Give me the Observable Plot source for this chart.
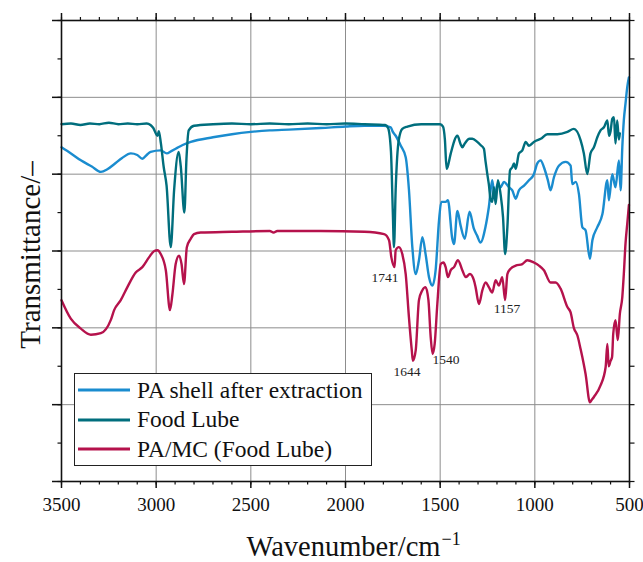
<!DOCTYPE html>
<html>
<head>
<meta charset="utf-8">
<script src="https://cdn.jsdelivr.net/npm/d3@7"></script>
<script src="https://cdn.jsdelivr.net/npm/@observablehq/plot@0.6"></script>
<style>
  html, body { margin: 0; padding: 0; background: #fff; }
  #wrap { position: relative; width: 643px; height: 562px; }
  #legend {
    position: absolute; left: 74px; top: 373px; width: 296px; height: 89px;
    border: 1px solid #222; background: #fff; box-sizing: content-box;
    padding-top: 1.5px;
    font-family: "Liberation Serif", Tinos, "Times New Roman", Times, "Nimbus Roman", "DejaVu Serif", serif;
    font-size: 23.5px; color: #111;
  }
  .row { display: flex; align-items: center; height: 29.5px; }
  .row svg { flex: none; margin-left: 2px; }
  .row span { margin-left: 6px; white-space: nowrap; line-height: 1; }
</style>
</head>
<body>
<div id="wrap">
  <div id="chart"></div>
  <div id="legend"></div>
</div>
<script>
// FTIR spectra: [wavenumber (cm^-1), transmittance (offset, arbitrary units)]
const seriesNames = ["PA shell after extraction", "Food Lube", "PA/MC (Food Lube)"];
const seriesColors = ["#1a8ccf", "#006e7d", "#b5124c"];

const shellAfterExtraction = [
  [3500,4.35],[3450,4.27],[3398,4.18],[3340,4.10],[3292,4.03],[3260,4.06],[3222,4.13],[3180,4.21],
  [3134,4.27],[3100,4.25],[3073,4.20],[3050,4.25],[3029,4.29],[2976,4.31],[2944,4.27],[2920,4.30],
  [2897,4.33],[2860,4.38],[2817,4.42],[2700,4.48],[2600,4.52],[2500,4.55],[2400,4.57],[2300,4.58],
  [2131,4.60],[2000,4.62],[1900,4.63],[1800,4.63],[1761,4.61],[1752,4.56],[1735,4.50],[1708,4.37],
  [1682,4.22],[1665,3.80],[1647,3.05],[1629,2.70],[1612,2.88],[1594,3.18],[1577,2.96],[1559,2.66],
  [1541,2.55],[1524,2.75],[1506,3.40],[1494,3.64],[1471,3.64],[1459,3.66],[1436,3.16],[1427,3.09],
  [1409,3.52],[1392,3.33],[1370,3.16],[1345,3.51],[1322,3.29],[1305,3.20],[1287,3.11],[1261,3.31],
  [1243,3.57],[1225,3.92],[1212,3.70],[1198,3.87],[1181,3.83],[1163,3.90],[1137,3.83],[1119,3.79],
  [1101,3.68],[1084,3.79],[1057,3.85],[1031,3.92],[1005,4.00],[987,4.14],[969,4.18],[952,4.09],
  [931,3.92],[917,3.79],[899,3.96],[873,4.11],[837,4.16],[811,4.11],[802,3.87],[784,3.90],
  [767,3.74],[749,3.31],[732,3.27],[709,2.90],[696,3.14],[670,3.31],[643,3.48],[617,3.92],
  [609,3.66],[591,4.00],[574,3.83],[556,4.18],[547,3.79],[538,4.35],[530,4.70],[521,4.92],
  [512,5.13],[503,5.26]
];

const foodLube = [
  [3500,4.65],[3450,4.66],[3400,4.64],[3350,4.66],[3300,4.65],[3250,4.67],[3200,4.65],[3150,4.66],
  [3100,4.65],[3050,4.66],[3030,4.64],[3015,4.60],[2993,4.50],[2986,4.56],[2975,4.40],[2960,4.09],
  [2945,3.85],[2923,3.05],[2905,3.80],[2881,4.29],[2870,4.10],[2851,3.50],[2840,4.20],[2828,4.57],
  [2800,4.63],[2700,4.65],[2600,4.66],[2500,4.65],[2400,4.66],[2300,4.65],[2200,4.66],[2100,4.65],
  [2000,4.66],[1900,4.65],[1790,4.64],[1775,4.60],[1760,4.30],[1750,3.50],[1744,3.05],[1735,3.80],
  [1719,4.44],[1700,4.59],[1673,4.62],[1600,4.65],[1500,4.65],[1485,4.62],[1475,4.45],[1466,4.07],
  [1460,4.10],[1444,4.27],[1409,4.50],[1392,4.39],[1383,4.35],[1370,4.40],[1345,4.46],[1330,4.46],
  [1304,4.42],[1287,4.38],[1269,4.33],[1261,4.18],[1251,4.00],[1243,3.87],[1233,3.66],[1225,3.64],
  [1216,3.83],[1207,3.61],[1195,3.92],[1181,3.74],[1168,3.44],[1157,2.96],[1145,3.31],[1131,4.05],
  [1119,4.09],[1110,4.14],[1101,4.07],[1084,4.27],[1066,4.31],[1048,4.42],[1031,4.37],[1005,4.42],
  [969,4.46],[934,4.52],[881,4.52],[828,4.55],[794,4.59],[758,4.44],[741,4.27],[723,4.00],
  [706,4.27],[688,4.35],[670,4.48],[653,4.57],[635,4.61],[617,4.70],[608,4.50],[600,4.56],
  [591,4.72],[582,4.74],[574,4.40],[565,4.70],[556,4.45],[551,4.53]
];

const paMcFoodLube = [
  [3500,2.36],[3451,2.12],[3398,1.99],[3345,1.91],[3292,1.93],[3240,2.10],[3222,2.23],[3187,2.36],
  [3152,2.53],[3108,2.72],[3073,2.79],[3037,2.92],[3010,3.00],[2993,3.01],[2976,2.96],[2949,2.75],
  [2927,2.23],[2914,2.44],[2897,2.83],[2879,2.94],[2866,2.83],[2853,2.57],[2838,3.05],[2817,3.16],
  [2800,3.22],[2765,3.24],[2600,3.25],[2400,3.26],[2380,3.24],[2360,3.26],[2131,3.26],[1900,3.25],
  [1796,3.22],[1770,3.14],[1758,2.92],[1741,2.79],[1735,3.01],[1718,3.05],[1700,2.96],[1682,2.70],
  [1665,2.14],[1650,1.71],[1644,1.57],[1629,1.71],[1612,2.36],[1594,2.49],[1577,2.53],[1562,2.36],
  [1550,1.88],[1540,1.66],[1529,1.79],[1515,2.31],[1497,2.83],[1483,2.85],[1471,2.79],[1459,2.66],
  [1444,2.75],[1427,2.79],[1406,2.88],[1383,2.75],[1365,2.66],[1343,2.70],[1322,2.62],[1313,2.53],
  [1295,2.31],[1277,2.49],[1260,2.59],[1243,2.53],[1225,2.46],[1207,2.62],[1190,2.55],[1172,2.66],
  [1157,2.36],[1145,2.70],[1128,2.77],[1101,2.81],[1066,2.83],[1040,2.88],[1005,2.85],[978,2.81],
  [952,2.75],[917,2.59],[890,2.59],[864,2.51],[828,2.27],[811,2.20],[794,2.00],[775,1.90],
  [758,1.72],[741,1.52],[732,1.40],[709,1.03],[700,1.06],[688,1.10],[653,1.25],[626,1.49],
  [617,1.79],[610,1.50],[600,1.57],[592,1.62],[586,1.92],[574,2.10],[562,1.84],[551,2.18],
  [538,2.40],[530,2.70],[521,3.10],[512,3.35],[503,3.60]
];

// annotated absorption bands of the PA/MC spectrum
const peakLabels = [1741, 1644, 1540, 1157];

// axis ticks
const xMajor = [3500, 3000, 2500, 2000, 1500, 1000, 500];
const xMinor = d3.range(500, 3501, 100);
const xGrid = [3000, 2500, 2000, 1500, 1000];
const yMajor = [0, 1, 2, 3, 4, 5, 6];
const yMinor = d3.range(0, 6.01, 0.5);
const yGrid = [1, 2, 3, 4, 5];

const spectra = [shellAfterExtraction, foodLube, paMcFoodLube];
const rows = spectra.flatMap((pts, i) =>
  pts.map(([wn, t]) => ({series: seriesNames[i], wn, t})));

const peakAt = (wn) => {
  const p = paMcFoodLube.find(d => d[0] === wn);
  return {wn, t: p[1], label: String(wn)};
};

const serif = "'Liberation Serif', Tinos, 'Times New Roman', Times, 'Nimbus Roman', 'DejaVu Serif', serif";
const gridStyle = {stroke: "#8d8d8d", strokeOpacity: 1, strokeWidth: 1};
const labelMark = (wn, opts) =>
  Plot.text([peakAt(wn)], {x: "wn", y: "t", text: "label", fontSize: 13.5, fill: "#222", ...opts});
// tick-only axes (no tick labels)
const ticksOnlyX = (ticks, anchor, size, width) =>
  Plot.axisX(ticks, {anchor, tickSize: size, strokeWidth: width, fill: "none", label: null});
const ticksOnlyY = (ticks, anchor, size, width) =>
  Plot.axisY(ticks, {anchor, tickSize: size, strokeWidth: width, fill: "none", label: null});

const chart = Plot.plot({
  width: 643,
  height: 562,
  marginLeft: 61,
  marginRight: 14,
  marginTop: 20,
  marginBottom: 81,
  x: {domain: [3500, 500]},
  y: {domain: [0, 6]},
  color: {domain: seriesNames, range: seriesColors},
  style: {fontFamily: serif, fontSize: "19px", background: "#fff", color: "#111"},
  marks: [
    Plot.gridX(xGrid, gridStyle),
    Plot.gridY(yGrid, gridStyle),
    Plot.line(rows, {x: "wn", y: "t", z: "series", stroke: "series", curve: "monotone-x",
      strokeWidth: 2.4, strokeLinejoin: "round", strokeLinecap: "round"}),
    labelMark(1741, {textAnchor: "end", dx: 4, dy: 11}),
    labelMark(1644, {dx: -6, dy: 11}),
    labelMark(1540, {textAnchor: "start", dx: 0, dy: 6}),
    labelMark(1157, {dx: 2, dy: 8}),
    Plot.axisX(xMajor, {anchor: "bottom", tickSize: 7, tickPadding: 9, label: null,
      strokeWidth: 1.5, tickFormat: d => String(d)}),
    ticksOnlyX(xMinor, "bottom", 3.5, 1.2),
    ticksOnlyX(xMajor, "top", 8, 1.5),
    ticksOnlyX(xMinor, "top", 4, 1.2),
    ticksOnlyY(yMajor, "left", 9, 1.5),
    ticksOnlyY(yMinor, "left", 3.5, 1.2),
    ticksOnlyY(yMinor, "right", 4.5, 1.2),
    Plot.frame({stroke: "#111", strokeWidth: 1.6}),
    Plot.text(["Transmittance/–"], {frameAnchor: "left", textAnchor: "middle", lineAnchor: "middle",
      dx: -31, dy: 4, rotate: -90, fontSize: 29, fill: "#111"}),
    Plot.text(["Wavenumber/cm"], {frameAnchor: "bottom", textAnchor: "end", lineAnchor: "middle",
      dx: 95, dy: 65, fontSize: 28.5, fill: "#111"}),
    Plot.text(["−1"], {frameAnchor: "bottom", textAnchor: "start", lineAnchor: "middle",
      dx: 96, dy: 58, fontSize: 18, fill: "#111"})
  ]
});
document.getElementById("chart").append(chart);

// legend with line samples
const legend = d3.select("#legend");
seriesNames.forEach((name, i) => {
  const row = legend.append("div").attr("class", "row");
  const svg = row.append("svg").attr("width", 54).attr("height", 10);
  svg.append("line").attr("x1", 1).attr("x2", 53).attr("y1", 5).attr("y2", 5)
    .attr("stroke", seriesColors[i]).attr("stroke-width", 3);
  row.append("span").text(name);
});
</script>
</body>
</html>
